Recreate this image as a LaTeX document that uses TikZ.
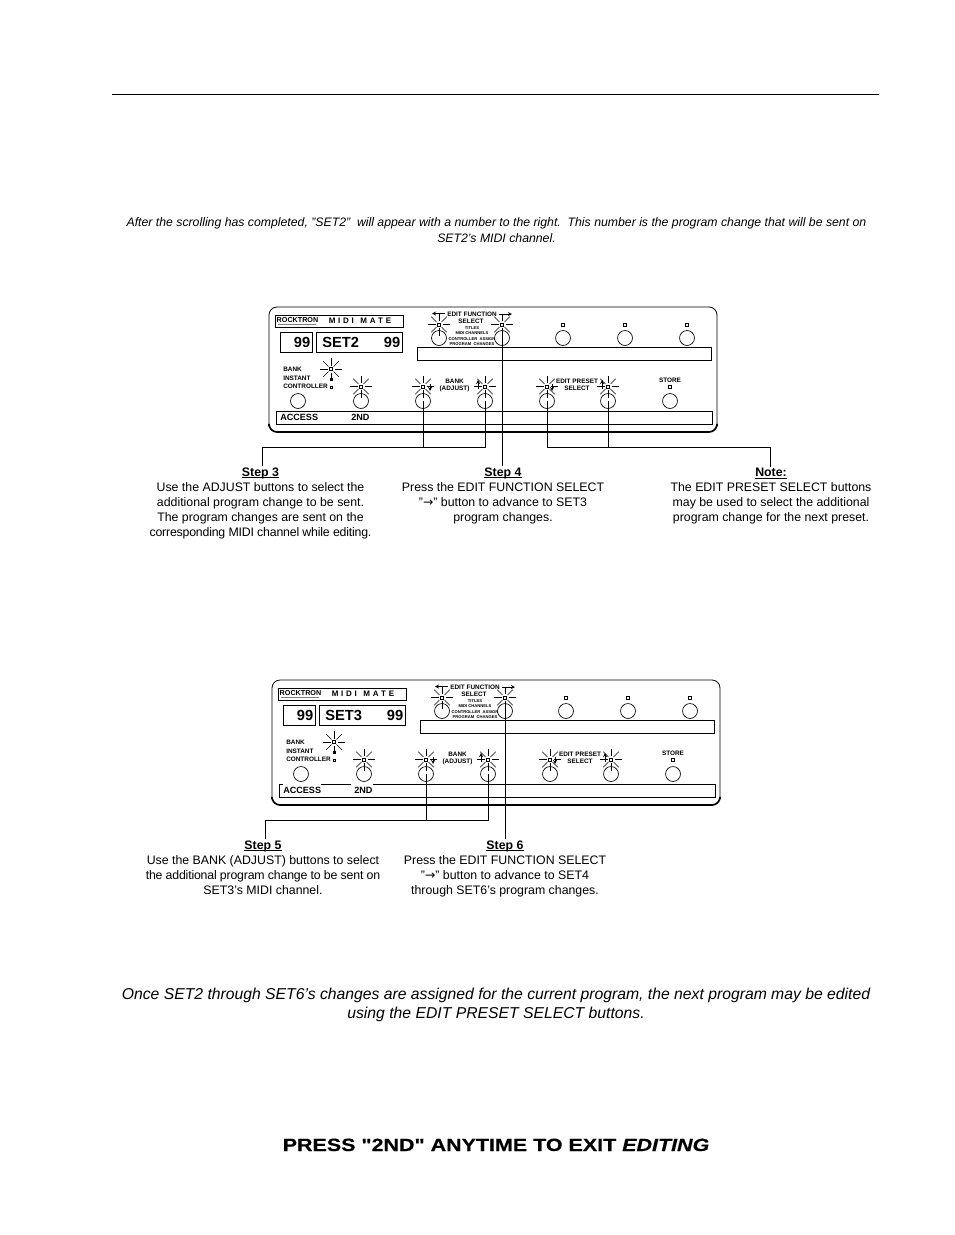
\documentclass[tikz,border=0pt]{standalone}
\usepackage{fontspec}
\setmainfont{Liberation Sans}[Ligatures=ResetAll]
\newfontfamily\symfont{DejaVu Sans}
\newfontfamily\exitfont{Liberation Sans Bold}[ItalicFont={Liberation Sans Bold Italic}, FakeStretch=1.21, FakeBold=0.35, Ligatures=ResetAll]
\newcommand{\fs}[1]{\fontsize{#1}{1.15\dimexpr#1\relax}\selectfont}
\newlength{\ulwidth}
\newcommand{\stepul}[1]{\settowidth{\ulwidth}{\textbf{#1}}\textbf{#1}\llap{\rule[-1.3pt]{\ulwidth}{0.55pt}}}
\newcommand{\tight}[1]{{\addfontfeature{LetterSpace=-1.6}#1}}
\tikzset{
    btn/.style={circle, draw, fill=white, line width=0.5pt, minimum size=11.2pt, inner sep=0pt},
    led/.style={rectangle, draw, fill=white, line width=0.4pt, minimum size=2.2pt, inner sep=0pt},
    strip/.style={draw, line width=0.6pt, fill=white},
    lbl/.style={font=\bfseries\fs{4.8pt}, inner sep=0pt, anchor=base},
    tinylbl/.style={font=\bfseries\fs{3.1pt}, inner sep=0pt, anchor=base},
    wire/.style={line width=0.75pt},
    noteblk/.style={font=\fontsize{9.25pt}{11.25pt}\selectfont, align=center, anchor=north, inner xsep=0pt, inner ysep=0.9pt}
}
% one front panel: name, shift x, shift y, display text
\newcommand{\midipanel}[4]{
\begin{scope}[shift={(#2,#3)}]
    \draw [line width=0.6pt, rounded corners=6pt] (269,307) rectangle (717,432);
    \draw [line width=1.2pt, rounded corners=6pt] (269,426) |- (717,432) -- (717,426);
    \node [strip, minimum width=96pt, minimum height=9pt, inner sep=0pt] (#1title) at (339,321) {};
    \node [font=\bfseries\fs{5.4pt}, inner sep=0pt, anchor=base] (#1logo) at (297.5,322) {ROCKTRON};
    \draw [line width=1pt, gray] (278,324.5) -- (316,324.5);
    \node [font=\bfseries\fs{6pt}, inner sep=0pt, anchor=base] (#1mate) at (360,323.5) {M\,\,I\,\,D\,\,I\,\,\,\,\,M\,\,A\,\,T\,\,E};
    \node [strip, minimum width=24pt, minimum height=15pt, inner sep=0pt] (#1num) at (296,342) {};
    \node [strip, minimum width=64pt, minimum height=15pt, inner sep=0pt] (#1set) at (359.5,342) {};
    \node [font=\bfseries\fs{11pt}, inner sep=0pt, anchor=base east] at (310.5,347) {99};
    \node [font=\bfseries\fs{11pt}, inner sep=0pt, anchor=base west] at (322,347) {#4};
    \node [font=\bfseries\fs{11pt}, inner sep=0pt, anchor=base east] at (400.5,347) {99};
    \node [strip, minimum width=220pt, minimum height=9.6pt, inner sep=0pt] (#1upper) at (564.5,353.5) {};
    \node [strip, minimum width=326.5pt, minimum height=9.6pt, inner sep=0pt] (#1lower) at (494.5,417.5) {};
    % upper row
    \foreach \n/\x in {a/439,b/502,c/563,d/625,e/687} {
        \node [btn] (#1btn\n) at (\x,338) {};
        \node [led] (#1led\n) at (\x,324.5) {};
    }
    % lower row
    \foreach \n/\x in {f/298,g/361,h/423,i/485,j/547,k/608,l/670} {
        \node [btn] (#1btn\n) at (\x,401) {};
    }
    \foreach \n/\x in {g/361,h/423,i/485,j/547,k/608} {
        \node [led] (#1led\n) at (\x,386.5) {};
    }
    \node [led] (#1ledl) at (670,387) {};
    \node [led] (#1ledm) at (331,369) {};
    \node [led, minimum size=1.5pt] (#1ledn) at (331,379) {};
    \node [led, minimum size=1.5pt] (#1ledo) at (331,387) {};
    % flashing leds
    \foreach \n in {a,b,g,h,i,j,k,m} {
        \foreach \a in {0,45,...,315} {
            \draw [line width=0.4pt] (#1led\n) ++(\a:3.5) -- ++(\a:7.5);
        }
    }
    % arrows
    \draw [line width=0.4pt, -stealth] (439,320) -- (439,313.5) -- (432,313.5);
    \draw [line width=0.4pt] (439,313.5) -- (445,313.5);
    \draw [line width=0.4pt, -stealth] (502,320) -- (502,314) -- (512,314);
    \draw [line width=0.4pt] (502,314) -- (499,314);
    \draw [line width=0.4pt, -stealth] (430,384) -- (430,391);
    \draw [line width=0.4pt, -stealth] (478,389) -- (478,380);
    \draw [line width=0.4pt, -stealth] (552,384) -- (552,391);
    \draw [line width=0.4pt, -stealth] (602,389) -- (602,380);
    % labels
    \node [lbl] at (472,316) {EDIT FUNCTION};
    \node [lbl] at (471,323) {SELECT};
    \node [tinylbl] at (472,329) {TITLES};
    \node [tinylbl] at (472,334.5) {MIDI CHANNELS};
    \node [tinylbl] at (472,340) {CONTROLLER\ \ ASSIGN};
    \node [tinylbl] at (472,345.5) {PROGRAM\ \ CHANGES};
    \node [lbl, anchor=base west] at (283,371) {BANK};
    \node [lbl, anchor=base west] at (283,380) {INSTANT};
    \node [lbl, anchor=base west] at (283,388) {CONTROLLER};
    \node [lbl] at (454.5,383) {BANK};
    \node [lbl] at (454.5,390) {(ADJUST)};
    \node [lbl] at (577,383) {EDIT PRESET};
    \node [lbl] at (577,390) {SELECT};
    \node [lbl] at (670,382) {STORE};
    \node [font=\bfseries\fs{6.8pt}, inner sep=0pt, anchor=base west] at (280,420) {ACCESS};
    \node [font=\bfseries\fs{6.8pt}, inner sep=0pt, anchor=base west] at (351,420) {2ND};
\end{scope}
}
\begin{document}
\begin{tikzpicture}[x=0.75pt, y=-0.75pt]
    \useasboundingbox (0,0) rectangle (954,1235);
    \coordinate (ruleL) at (112,94.5);
    \coordinate (ruleR) at (879,94.5);
    \draw [line width=0.75pt] (ruleL) -- (ruleR);

    \node [font=\itshape\fontsize{9.2pt}{11.9pt}\selectfont, align=center, anchor=north, inner sep=0pt] (intro) at (496.5,217)
        {After the scrolling has completed, "SET2"\ \ will appear with a number to the right.\ \ This number is the program change that will be sent on\\SET2’s MIDI channel.};

    \midipanel{pa}{0}{0}{SET2}
    \midipanel{pb}{3}{373}{SET3}

    % gaps in the strip of the second panel
    \draw [white, line width=1pt] (283,784) -- (321,784) (351,784) -- (373,784);

    \node [noteblk] (stepC) at (260.5,466) {\stepul{Step 3}\\Use the ADJUST buttons to select the\\additional program change to be sent.\\The program changes are sent on the\\\tight{corresponding MIDI channel while editing.}};
    \node [noteblk] (stepD) at (503,466) {\stepul{Step 4}\\Press the EDIT FUNCTION SELECT\\"{\symfont→}" button to advance to SET3\\program changes.};
    \node [noteblk] (stepN) at (771,467) {\stepul{Note:}\\The EDIT PRESET SELECT buttons\\may be used to select the additional\\program change for the next preset.};
    \node [noteblk] (stepE) at (263,839) {\stepul{Step 5}\\Use the BANK (ADJUST) buttons to select\\\tight{the additional program change to be sent on}\\SET3’s MIDI channel.};
    \node [noteblk] (stepF) at (505,839) {\stepul{Step 6}\\Press the EDIT FUNCTION SELECT\\"{\symfont→}" button to advance to SET4\\through SET6’s program changes.};

    \coordinate (joinA) at (262,447);
    \coordinate (joinB) at (770,447);
    \coordinate (joinC) at (265,820);

    \draw [wire] (pabtnh.center) -- (pabtnh |- joinA);
    \draw [wire] (pabtni.center) |- (joinA) -- (joinA |- stepC.north);
    \draw [wire] (pabtnb.north) -- (pabtnb |- stepD.north);
    \draw [wire] (pabtnj.center) -- (pabtnj |- joinB);
    \draw [wire] (pabtnk.center) -- (pabtnk |- joinB);
    \draw [wire] (pabtnj |- joinB) -- (joinB) -- (joinB |- stepN.north);
    \draw [wire] (pbbtnh.center) -- (pbbtnh |- joinC);
    \draw [wire] (pbbtni.center) |- (joinC) -- (joinC |- stepE.north);
    \draw [wire] (pbbtnb.north) -- (pbbtnb |- stepF.north);

    \node [font=\itshape\fontsize{11.8pt}{14.25pt}\selectfont, align=center, anchor=north, inner sep=0pt] (outro) at (496,988)
        {Once SET2 through SET6’s changes are assigned for the current program, the next program may be edited\\using the EDIT PRESET SELECT buttons.};
    \node [font=\exitfont\fontsize{13.3pt}{15pt}\selectfont, inner sep=0pt, anchor=base] (exit) at (496,1151)
        {PRESS "2ND" ANYTIME TO EXIT \textit{EDITING}};
\end{tikzpicture}
\end{document}
